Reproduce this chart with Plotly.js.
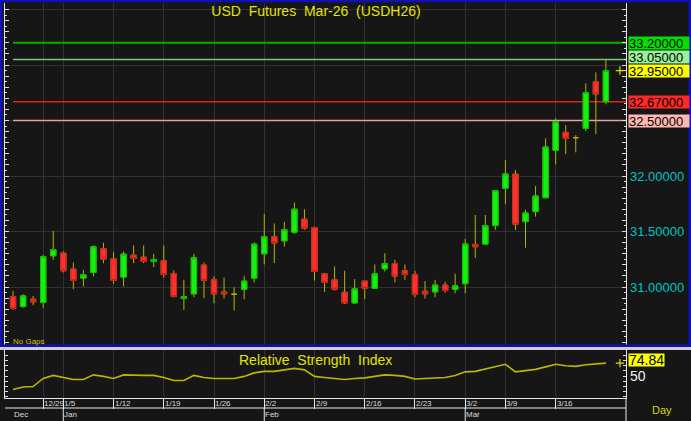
<!DOCTYPE html>
<html><head><meta charset="utf-8">
<script src="https://cdn.plot.ly/plotly-3.0.1.min.js"></script>
<style>html,body{margin:0;padding:0;background:#161616;} #chart{width:691px;height:421px;}</style>
</head><body><div id="chart"></div>
<script>
// ---- data ----
const open  = [30.914,30.824,30.890,30.860,31.281,31.305,31.161,31.080,31.131,31.344,
               31.254,31.089,31.287,31.269,31.230,31.236,31.119,30.896,30.938,31.197,
               31.065,30.956,30.935,30.980,31.080,31.299,31.452,31.416,31.494,31.611,
               31.536,31.119,31.065,30.953,30.857,31.053,30.989,31.164,31.212,31.146,
               31.110,30.962,30.956,31.017,30.980,31.030,31.384,31.387,31.553,31.889,
               32.018,31.589,31.679,31.805,32.231,32.393,32.345,32.429,32.850,32.670];
const high  = [30.965,30.935,30.920,31.290,31.506,31.320,31.221,31.155,31.374,31.398,
               31.314,31.320,31.374,31.374,31.299,31.374,31.149,31.065,31.299,31.221,
               31.095,31.086,30.998,31.101,31.401,31.659,31.572,31.587,31.761,31.701,
               31.545,31.119,31.185,31.146,31.071,31.053,31.203,31.305,31.245,31.203,
               31.146,31.053,31.065,31.047,31.119,31.432,31.649,31.649,31.868,32.144,
               32.054,31.694,31.910,32.339,32.520,32.459,32.369,32.835,32.934,33.045];
const low   = [30.794,30.812,30.836,30.812,31.245,31.131,30.980,31.005,31.095,31.215,
               31.029,31.005,31.215,31.215,31.179,31.086,30.905,30.794,30.908,30.899,
               30.854,30.896,30.788,30.890,31.041,31.203,31.215,31.365,31.479,31.515,
               31.059,30.956,30.968,30.848,30.848,30.890,30.989,31.140,31.041,31.065,
               30.908,30.896,30.908,30.950,30.944,30.943,31.261,31.387,31.514,31.748,
               31.514,31.354,31.634,31.796,32.105,32.198,32.213,32.405,32.378,32.646];
const close = [30.806,30.920,30.866,31.272,31.338,31.146,31.059,31.110,31.362,31.251,
               31.059,31.296,31.257,31.230,31.248,31.113,30.914,30.914,31.263,31.059,
               30.938,30.938,30.935,31.053,31.386,31.452,31.398,31.518,31.701,31.530,
               31.140,31.041,30.980,30.857,30.983,30.989,31.119,31.212,31.098,31.113,
               30.932,30.938,31.017,30.968,31.011,31.387,31.363,31.553,31.868,32.018,
               31.565,31.667,31.820,32.261,32.489,32.339,32.345,32.751,32.739,32.950];
const rsi   = [24.3,29.1,30.0,45.5,51.3,47.4,43.6,43.6,52.3,49.4,
               45.5,52.3,51.3,51.3,51.3,47.4,41.6,41.6,51.3,47.4,
               45.5,45.5,45.5,49.4,56.1,59.0,59.0,61.9,64.8,61.9,
               49.4,47.4,45.5,43.6,45.5,46.5,49.4,52.3,51.3,49.4,
               44.5,45.5,46.5,47.4,51.3,58.1,59.0,63.9,68.7,72.6,
               58.1,60.0,62.9,67.7,72.6,69.7,68.7,71.6,72.6,74.84];
const weekTickIdx    = [3,5,10,15,20,25,30,35,40,45,49,54];
const weekTickLabels = ['12/29','1/5','1/12','1/19','1/26','2/2','2/9','2/16','2/23','3/2','3/9','3/16'];
const monthLabelIdx  = [0,5,25,45];
const monthLabels    = ['Dec','Jan','Feb','Mar'];
const monthSepIdx    = [5,25,45];
const priceTickVals  = [31,31.5,32,32.5,33,33.5];
const priceTickText  = ['31.00000','31.50000','32.00000','','',''];
const rsiTickVals    = [50];
const rsiTickText    = ['50'];
const levels         = [33.20,33.05,32.67,32.50];
const levelColors    = ['#00b000','#78c878','#e02020','#e8a0a0'];
const levelBoxColors = ['#00e000','#98f098','#ff2828','#ffb8b0'];

// ---- build ----
const FONT = 'Liberation Sans, Arial, sans-serif';
const W = 691, H = 421;
const px = v => v / W;
const py = v => (H - v) / H;
const n = close.length;
const idx = close.map((_, i) => i);
const xRange = [-0.8, 61.0];
const yRange = [30.4775, 33.5586];
const rsiRange = [8, 100];
const WICK = '#b4b400';

const bodyOpen  = open.map((o, i) => o === close[i] ? null : o);
const bodyClose = close.map((c, i) => c === open[i] ? null : c);
const bodyHigh  = open.map((o, i) => o === close[i] ? null : Math.max(o, close[i]));
const bodyLow   = open.map((o, i) => o === close[i] ? null : Math.min(o, close[i]));

const traces = [
  {type:'candlestick', x:idx, open:open, high:high, low:low, close:close, xaxis:'x', yaxis:'y',
   increasing:{line:{color:WICK,width:1}, fillcolor:WICK},
   decreasing:{line:{color:WICK,width:1}, fillcolor:WICK},
   whiskerwidth:0, hoverinfo:'skip', showlegend:false},
  {type:'candlestick', x:idx, open:bodyOpen, high:bodyHigh, low:bodyLow, close:bodyClose, xaxis:'x', yaxis:'y',
   increasing:{line:{color:'#00c400',width:1}, fillcolor:'#14f014'},
   decreasing:{line:{color:'#d01c1c',width:1}, fillcolor:'#ff3030'},
   whiskerwidth:0, hoverinfo:'skip', showlegend:false},
  {type:'scatter', mode:'lines', x:idx, y:rsi, xaxis:'x', yaxis:'y2',
   line:{color:'#b8b800', width:1.6}, hoverinfo:'skip', showlegend:false},
  {type:'scatter', mode:'markers', x:[idx[n-1] + 1.4], y:[close[n-1]], xaxis:'x', yaxis:'y3',
   marker:{symbol:'cross-thin', size:6, line:{color:'#e0e000', width:1.2}}, showlegend:false, hoverinfo:'skip'},
  {type:'scatter', mode:'markers', x:[idx[n-1] + 1.4], y:[rsi[n-1]], xaxis:'x', yaxis:'y4',
   marker:{symbol:'cross-thin', size:6, line:{color:'#e0e000', width:1.2}}, showlegend:false, hoverinfo:'skip'}
];

const shapes = [];
levels.forEach((v, k) => shapes.push({type:'line', xref:'x', yref:'y', x0:idx[0], x1:xRange[1], y0:v, y1:v,
  line:{color:levelColors[k], width:k === 0 ? 2 : 1.5}, layer:'between'}));
// panel frame & separators
shapes.push({type:'rect', xref:'paper', yref:'paper', x0:0, x1:1, y0:py(350), y1:py(347), fillcolor:'#d0d0d0', line:{width:0}, layer:'above'});
shapes.push({type:'rect', xref:'paper', yref:'paper', x0:px(1.2), x1:px(689.8), y0:py(345.8), y1:py(1), line:{color:'#1010b8', width:2.5}, layer:'above'});
shapes.push({type:'line', xref:'paper', yref:'paper', x0:px(5), x1:px(626), y0:py(408), y1:py(408), line:{color:'#e8e8e8', width:1}});
shapes.push({type:'line', xref:'paper', yref:'paper', x0:px(626), x1:px(626), y0:py(398), y1:0, line:{color:'#e8e8e8', width:1}});
monthSepIdx.forEach(v => shapes.push({type:'line', xref:'x', yref:'paper', x0:v, x1:v, y0:py(408), y1:0, line:{color:'#e8e8e8', width:1}}));

const annotations = [];
const boxShift = [0, 2, 0, 0];
levels.forEach((v, k) => annotations.push({xref:'paper', yref:'y', x:px(628), y:v, xanchor:'left', yanchor:'middle',
  text:v.toFixed(5), bgcolor:levelBoxColors[k], font:{family:FONT, size:13, color:'#000'}, showarrow:false,
  width:60, height:12, align:'left', borderpad:0, yshift:boxShift[k]}));
annotations.push({xref:'paper', yref:'y', x:px(628), y:close[n-1], xanchor:'left', yanchor:'middle',
  text:close[n-1].toFixed(5), bgcolor:'#ffff00', font:{family:FONT, size:13, color:'#000'}, showarrow:false,
  width:60, height:12, align:'left', borderpad:0});
annotations.push({xref:'paper', yref:'y2', x:px(628), y:rsi[n-1], xanchor:'left', yanchor:'middle',
  text:rsi[n-1].toFixed(2), bgcolor:'#ffff00', font:{family:FONT, size:14, color:'#000'}, showarrow:false,
  height:12, borderpad:0, yshift:3});
weekTickIdx.forEach((v, k) => annotations.push({xref:'x', yref:'paper', x:v, y:py(403), xanchor:'left', yanchor:'middle',
  text:weekTickLabels[k], font:{family:FONT, size:8, color:'#dcdcdc'}, showarrow:false, borderpad:0}));
monthLabelIdx.forEach((v, k) => annotations.push({xref:'x', yref:'paper', x:v, y:py(414), xanchor:'left', yanchor:'middle',
  text:monthLabels[k], font:{family:FONT, size:8, color:'#dcdcdc'}, showarrow:false, borderpad:0}));
annotations.push({xref:'paper', yref:'paper', x:px(315), y:py(360), xanchor:'center', yanchor:'middle',
  text:'Relative\u00a0 Strength\u00a0 Index', font:{family:FONT, size:14, color:'#e4e400'}, showarrow:false});
annotations.push({xref:'paper', yref:'paper', x:px(12), y:py(341.5), xanchor:'left', yanchor:'middle',
  text:'No Gaps', font:{family:FONT, size:8, color:'#c8c800'}, showarrow:false, borderpad:0});
annotations.push({xref:'paper', yref:'paper', x:px(662), y:py(410), xanchor:'center', yanchor:'middle',
  text:'Day', font:{family:FONT, size:11, color:'#d8d800'}, showarrow:false});

const layout = {
  width:W, height:H, margin:{l:0, r:0, t:0, b:0, pad:0},
  paper_bgcolor:'#161616', plot_bgcolor:'#161616',
  font:{family:FONT, color:'#dddddd'},
  showlegend:false, boxgap:0.25,
  title:{text:'USD\u00a0 Futures\u00a0 Mar-26\u00a0 (USDH26)', font:{family:FONT, size:14, color:'#e4e400'},
         x:px(316), xanchor:'center', y:py(11), yanchor:'middle'},
  xaxis:{domain:[px(5), px(626)], range:xRange, anchor:'y2', type:'linear',
         showline:true, linecolor:'#e8e8e8', linewidth:1,
         ticks:'outside', ticklen:10, tickcolor:'#e8e8e8', tickvals:weekTickIdx, showticklabels:false,
         showgrid:true, gridcolor:'#323232', gridwidth:1, zeroline:false, rangeslider:{visible:false}, fixedrange:true},
  yaxis:{domain:[py(345), py(3)], range:yRange, anchor:'x', side:'right',
         tickvals:priceTickVals, ticktext:priceTickText, ticks:'', ticklabelstandoff:3,
         tickfont:{family:FONT, size:13, color:'#00c4c4'},
         showgrid:true, gridcolor:'#323232', zeroline:false, showline:false, fixedrange:true},
  yaxis3:{overlaying:'y', anchor:'x', side:'right', range:yRange, tick0:0, dtick:0.1,
          ticks:'inside', ticklen:4, tickcolor:'#dddddd', showticklabels:false, showgrid:false,
          showline:true, linecolor:'#e8e8e8', mirror:'ticks', zeroline:false,
          minor:{dtick:0.05, ticks:'inside', ticklen:2, tickcolor:'#dddddd', showgrid:false}, fixedrange:true},
  yaxis2:{domain:[py(398), py(350)], range:rsiRange, anchor:'x', side:'right',
          tickvals:rsiTickVals, ticktext:rsiTickText, ticks:'', ticklabelstandoff:3,
          tickfont:{family:FONT, size:14, color:'#f0f0f0'},
          showgrid:false, zeroline:false, showline:false, fixedrange:true},
  yaxis4:{overlaying:'y2', anchor:'x', side:'right', range:rsiRange, tick0:0, dtick:10,
          ticks:'inside', ticklen:3, tickcolor:'#dddddd', showticklabels:false, showgrid:false,
          showline:true, linecolor:'#e8e8e8', mirror:'ticks', zeroline:false, fixedrange:true},
  shapes:shapes, annotations:annotations
};

Plotly.newPlot('chart', traces, layout, {staticPlot:true, displayModeBar:false});
</script></body></html>
